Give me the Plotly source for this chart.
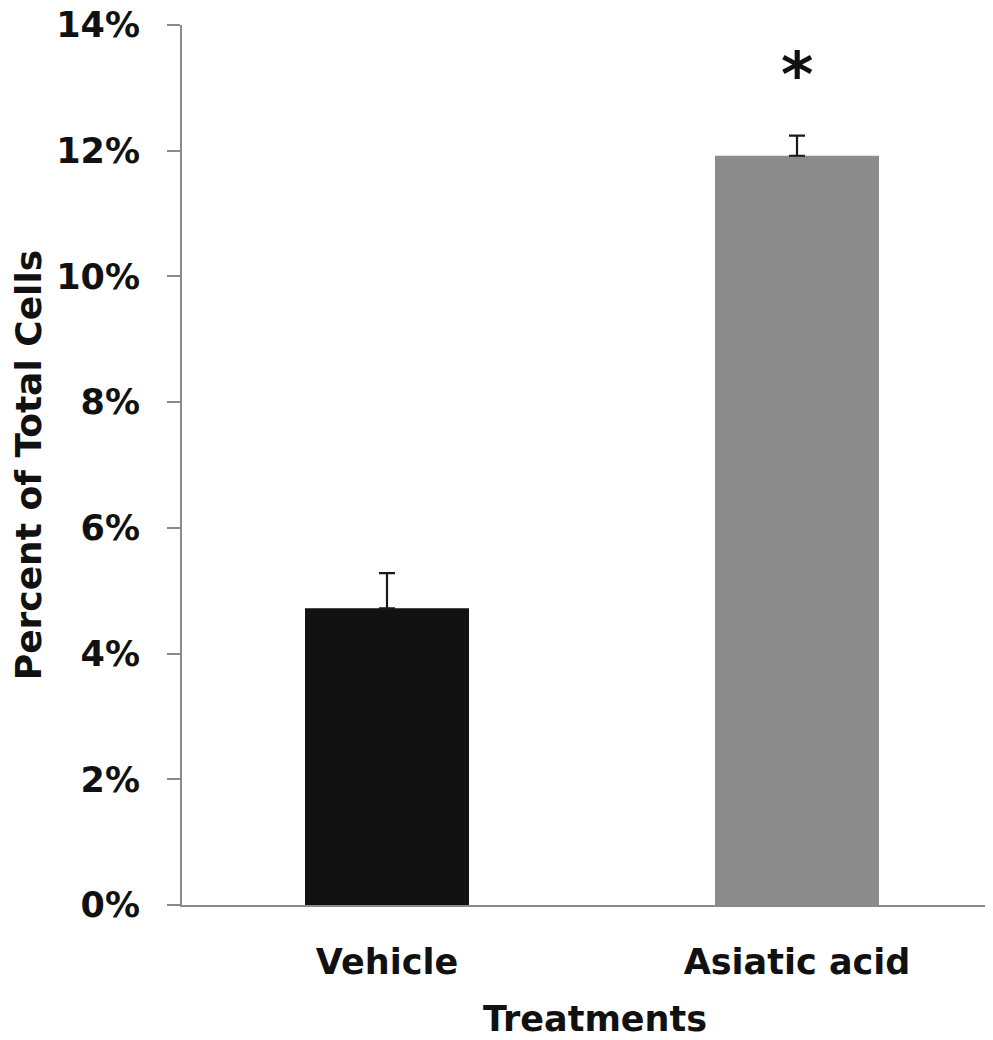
import plotly.graph_objects as go

categories = ["Vehicle", "Asiatic acid"]
values = [4.72, 11.92]
errors = [0.56, 0.32]
bar_colors = ["#121212", "#8b8b8b"]
tick_vals = [0, 2, 4, 6, 8, 10, 12, 14]
tick_text = ["0%", "2%", "4%", "6%", "8%", "10%", "12%", "14%"]
sig_labels = ["", "*"]
sig_y = 13.22
x_title = "Treatments"
y_title = "Percent of Total Cells"

FONT = "DejaVu Sans"

fig = go.Figure()
fig.add_trace(go.Bar(
    x=[0, 1],
    y=values,
    width=0.40,
    marker=dict(color=bar_colors, line=dict(width=0)),
    error_y=dict(type="data", array=errors, visible=True, color="#1a1a1a",
                 thickness=2.2, width=8, symmetric=False, arrayminus=[0, 0]),
))

for i, lab in enumerate(sig_labels):
    if lab:
        fig.add_annotation(x=i, y=sig_y, text=lab, showarrow=False,
                           font=dict(family=FONT, size=62, color="#111", weight="bold"),
                           yanchor="middle", xanchor="center")

fig.add_annotation(xref="paper", yref="paper", x=0.514, y=-0.1295,
                   text=x_title, showarrow=False,
                   font=dict(family=FONT, size=35, color="#111", weight="bold"),
                   xanchor="center", yanchor="middle")

axis_font = dict(family=FONT, size=35, color="#111", weight="bold")

fig.update_layout(
    width=977, height=1024,
    margin=dict(l=174, r=0, t=17, b=127, pad=0),
    paper_bgcolor="white", plot_bgcolor="white",
    showlegend=False,
    xaxis=dict(
        range=[-0.5, 1.4585],
        automargin=False,
        tickmode="array", tickvals=[0, 1], ticktext=categories,
        tickfont=axis_font,
        showline=True, linecolor="#8a8a8a", linewidth=2,
        ticks="", showgrid=False, zeroline=False,
        ticklabelstandoff=25,
    ),
    yaxis=dict(
        range=[0, 14],
        automargin=False,
        tickmode="array", tickvals=tick_vals, ticktext=tick_text,
        tickfont=axis_font,
        showline=True, linecolor="#8a8a8a", linewidth=2,
        ticks="outside", ticklen=13, tickwidth=2, tickcolor="#8a8a8a",
        showgrid=False, zeroline=False,
        ticklabelstandoff=20,
        ticklabeloverflow="allow",
        title=dict(text=y_title, font=dict(family=FONT, size=36, color="#111", weight="bold"),
                   standoff=13),
    ),
)

fig.write_html("out.html")
